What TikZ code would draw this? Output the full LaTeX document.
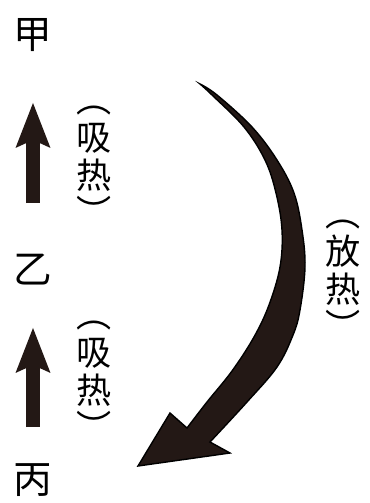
\documentclass[tikz,border=0pt]{standalone}
\usepackage{fontspec}
\newfontfamily\cjk{Noto Sans CJK SC}
\usetikzlibrary{arrows.meta}
\definecolor{arrfill}{RGB}{35,24,21}

\begin{document}
\begin{tikzpicture}[x=0.02cm,y=-0.02cm,line width=0.8pt,>=Stealth]
\tikzset{sub/.style={font=\cjk\fontsize{22}{22}\selectfont,inner sep=0pt},
  heat/.style={font=\cjk\fontsize{20}{21.5}\selectfont,align=center,inner sep=0pt},
  up/.style={draw=arrfill,line width=7.4pt,
    -{Stealth[length=0.9cm,width=0.7cm,inset=0.16cm,line width=0pt,fill=arrfill]}}}
\useasboundingbox (0,0) rectangle (369,503);
% ---------- the three states ----------
\node[sub] (jia) at (33,35) {甲};
\node[sub] (yi) at (33,270) {乙};
\node[sub] (bing) at (33,480) {丙};
% ---------- heat absorbed: upward ----------
\draw[up,shorten <=1.34cm,shorten >=1.36cm] (yi.center) -- (jia.center);
\draw[up,shorten <=1.06cm,shorten >=1.16cm] (bing.center) -- (yi.center);
\node[heat] (absA) at (94,166) {︵\\吸\\热\\︶};
\node[heat] (absB) at (94,381) {︵\\吸\\热\\︶};
% ---------- heat released: big curved arrow ----------
\filldraw[draw=black,fill=arrfill,line join=miter]
  (200,84) -- plot[smooth,tension=0.6] coordinates {(200,84) (217,95) (252,127)
    (277,160) (294,193) (302,230) (305,267) (300,310) (293,335) (277,367)
    (247,402) (210,442)}
  -- (230,453) -- (138,466) -- (170,413)
  -- plot[smooth,tension=0.6] coordinates {(187,428) (207,402) (232,371)
    (254,337) (269,305) (280,267) (282,230) (276,193) (265,160) (244,127)
    (212,95) (200,84)} -- cycle;
\node[heat] (rel) at (343,280) {︵\\放\\热\\︶};
\end{tikzpicture}
\end{document}
